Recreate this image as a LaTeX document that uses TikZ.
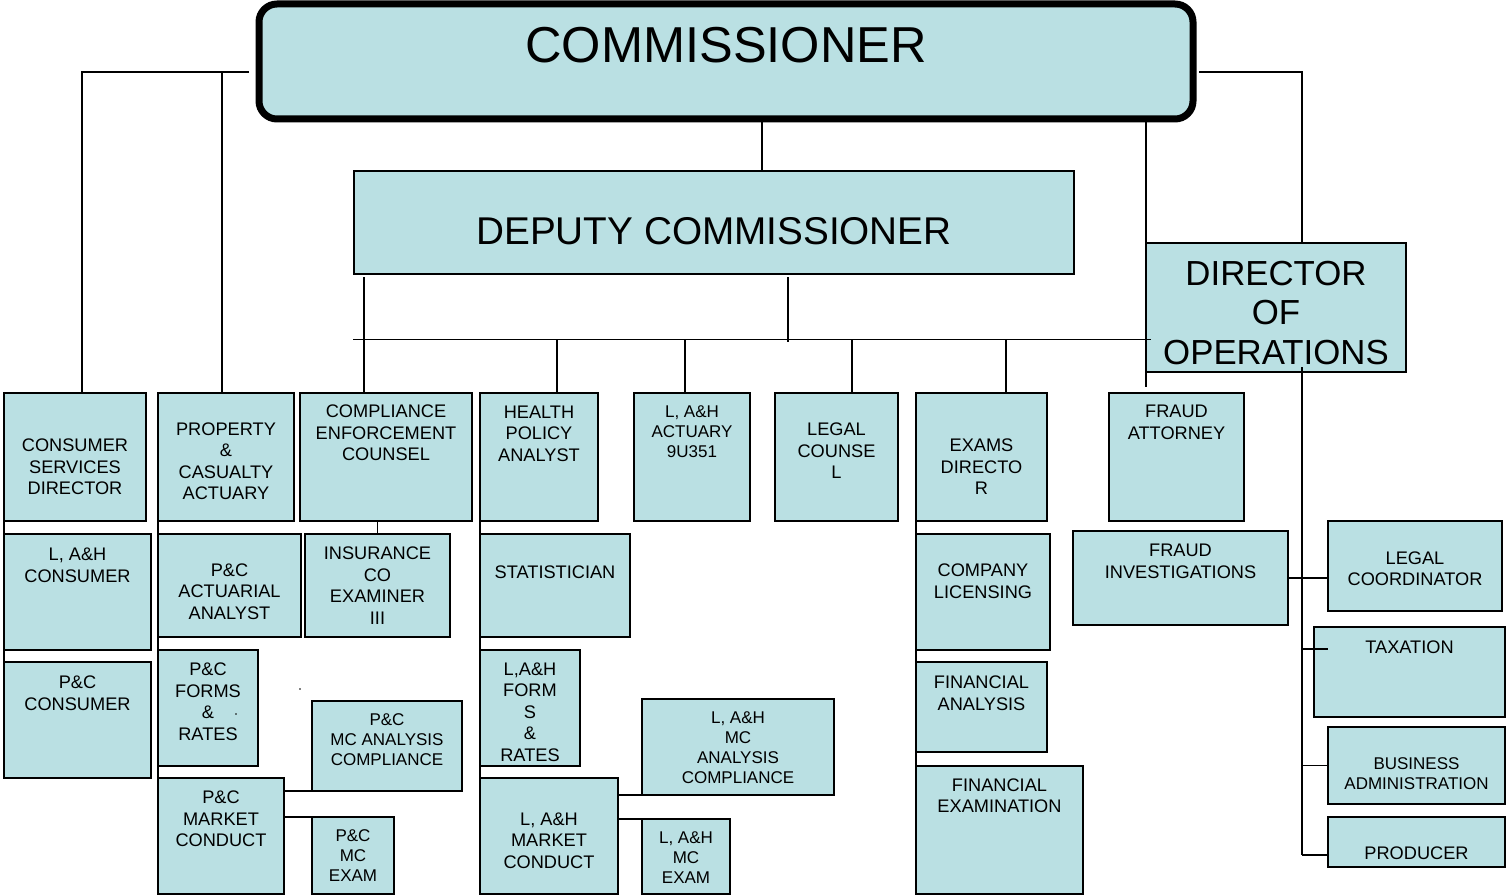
\documentclass[tikz,border=0pt]{standalone}
\usepackage{fontspec}
\setmainfont{Liberation Sans}
\definecolor{boxfill}{RGB}{186,224,227}
\tikzset{
  box/.style={draw=black, line width=1.8pt, fill=boxfill, inner sep=0pt, outer sep=0pt},
  lbl/.style={font=\fontsize{18.2}{21.5}\selectfont, align=center, inner sep=0pt},
  sm/.style={font=\fontsize{17}{20}\selectfont},
  conn/.style={draw=black, line width=1.5pt},
}
\newcommand{\orgbox}[8][]{%
  \node[box, minimum width={(#5-#3)*1pt}, minimum height={(#6-#4)*1pt}] (#2) at ({(#3+#5)/2},{(#4+#6)/2}) {};
  \node[lbl,#1] (#2-t) at ({(#3+#5)/2},#7) {#8};
}
\begin{document}
\begin{tikzpicture}[x=1pt,y=-1pt]
\useasboundingbox (0,0) rectangle (1506,896);
\coordinate (cL) at (249,72);
\coordinate (jL1) at (82,72);
\coordinate (jL2) at (222,72);
\coordinate (cR) at (1199,72);
\coordinate (jR) at (1302,72);
\coordinate (cd) at (762,121);
\coordinate (cf) at (1146,121);
\coordinate (fa) at (1146,387);
\coordinate (dv) at (364,277);
\coordinate (dm) at (788,277);
\coordinate (dm2) at (788,342);
\coordinate (hb1) at (353,339.5);
\coordinate (hb2) at (1151,339.5);
\coordinate (h1) at (557,339.5);
\coordinate (h2) at (685,339.5);
\coordinate (h3) at (852,339.5);
\coordinate (h4) at (1006,339.5);
\coordinate (dspine) at (1302,367);
\coordinate (jt) at (1302,649);
\coordinate (jp) at (1302,855);

\node[draw=black, line width=7pt, rounded corners=18pt, fill=boxfill, minimum width=934pt, minimum height=115pt, inner sep=0pt] (comm) at (726,61.5) {};
\node[inner sep=0pt, font=\fontsize{50.5}{56}\selectfont] (comm-t) at (726,45) {COMMISSIONER};

\node[box, minimum width=720pt, minimum height=103pt] (dep) at (714,222.5) {};
\node[inner sep=0pt, font=\fontsize{38.7}{42}\selectfont] (dep-t) at (714,231) {DEPUTY COMMISSIONER};

\orgbox{csd}{4}{393}{146}{521}{467}{CONSUMER\\SERVICES\\DIRECTOR}
\orgbox{prop}{158}{393}{294}{521}{461}{PROPERTY\\\&\\CASUALTY\\ACTUARY}
\orgbox{comp}{300}{393}{472}{521}{433}{COMPLIANCE\\ENFORCEMENT\\COUNSEL}
\orgbox{health}{480}{393}{598}{521}{433.7}{HEALTH\\POLICY\\ANALYST}
\orgbox[sm]{lahact}{634}{393}{750}{521}{432}{L, A\&H\\ACTUARY\\9U351}
\orgbox{legal}{775}{393}{898}{521}{451}{LEGAL\\COUNSE\\L}
\orgbox{exams}{916}{393}{1047}{521}{467}{EXAMS\\DIRECTO\\R}
\orgbox{fatt}{1109}{393}{1244}{521}{422.5}{FRAUD\\ATTORNEY}

\orgbox{lahcons}{4}{534}{151}{650}{565.5}{L, A\&H\\CONSUMER}
\orgbox{pcact}{158}{534}{301}{637}{591.7}{P\&C\\ACTUARIAL\\ANALYST}
\orgbox{insco}{305}{534}{450}{637}{585.7}{INSURANCE\\CO\\EXAMINER\\III}
\orgbox{stat}{480}{534}{630}{637}{572}{STATISTICIAN}
\orgbox{complic}{916}{534}{1050}{650}{581}{COMPANY\\LICENSING}
\orgbox{finv}{1073}{531}{1288}{625}{561.5}{FRAUD\\INVESTIGATIONS}
\orgbox{legco}{1328}{521}{1502}{611}{568.5}{LEGAL\\COORDINATOR}

\orgbox{pccons}{4}{662}{151}{778}{693}{P\&C\\CONSUMER}
\orgbox{pcforms}{158}{650}{258}{766}{701.5}{P\&C\\FORMS\\\&\\RATES}
\orgbox[sm]{pcmca}{312}{701}{462}{791}{739.7}{P\&C\\MC ANALYSIS\\COMPLIANCE}
\orgbox{pcmc}{158}{778}{284}{894}{819}{P\&C\\MARKET\\CONDUCT}
\orgbox[sm]{pcmce}{312}{817}{394}{894}{855.7}{P\&C\\MC\\EXAM}

\orgbox{lahforms}{480}{650}{580}{766}{712.2}{L,A\&H\\FORM\\S\\\&\\RATES}
\orgbox[sm]{lahmca}{642}{699}{834}{795}{748}{L, A\&H\\MC\\ANALYSIS\\COMPLIANCE}
\orgbox{lahmc}{480}{778}{618}{894}{840.3}{L, A\&H\\MARKET\\CONDUCT}
\orgbox[sm]{lahmce}{642}{819}{730}{894}{857.7}{L, A\&H\\MC\\EXAM}

\orgbox{finan}{916}{662}{1047}{752}{693}{FINANCIAL\\ANALYSIS}
\orgbox{finex}{916}{766}{1083}{894}{795.5}{FINANCIAL\\EXAMINATION}

\orgbox{tax}{1314}{627}{1505}{717}{647}{TAXATION}
\orgbox[sm]{busad}{1328}{727}{1505}{804}{773.5}{BUSINESS\\ADMINISTRATION}
\orgbox{prod}{1328}{817}{1505}{867}{853}{PRODUCER}

\node[box, minimum width=260pt, minimum height=129pt] (dir) at (1276,307.5) {};
\node[lbl, font=\fontsize{34.8}{39.5}\selectfont] (dir-t) at (1276,312.7) {DIRECTOR\\OF\\OPERATIONS};

\draw[conn] (cL) -- (jL1) -- (jL1 |- csd.north);
\draw[conn] (jL2) -- (jL2 |- prop.north);
\draw[conn] (cR) -- (jR) -- (jR |- dir.north);
\draw[conn] (cd) -- (cd |- dep.north);
\draw[conn] (cf) -- (fa);
\draw[conn] (dv) -- (dv |- comp.north);
\draw[conn] (dm) -- (dm2);
\draw[conn] (hb1) -- (hb2);
\draw[conn] (h1) -- (h1 |- health.north);
\draw[conn] (h2) -- (h2 |- lahact.north);
\draw[conn] (h3) -- (h3 |- legal.north);
\draw[conn] (h4) -- (h4 |- exams.north);
\draw[conn] (csd.south west) -- (pccons.north west);
\draw[conn] (prop.south west) -- (pcmc.north west);
\draw[conn] (health.south west) -- (lahmc.north west);
\draw[conn] (exams.south west) -- (finex.north west);
\draw[conn] (insco.north |- comp.south) -- (insco.north);
\draw[conn] (pcmca.south west) -- (pcmca.south west -| pcmc.east);
\draw[conn] (pcmce.north west) -- (pcmce.north west -| pcmc.east);
\draw[conn] (lahmca.south west) -- (lahmca.south west -| lahmc.east);
\draw[conn] (lahmce.north west) -- (lahmce.north west -| lahmc.east);
\draw[conn] (dspine) -- (jp);
\draw[conn] (finv.east) -- (finv.east -| legco.west);
\draw[conn] (jt) -- (jt -| busad.west);
\draw[conn] (dspine |- busad.west) -- (busad.west);
\draw[conn] (jp) -- (jp -| prod.west);
\fill (300,689) circle (0.9);
\fill (236,714) circle (0.9);
\end{tikzpicture}
\end{document}
